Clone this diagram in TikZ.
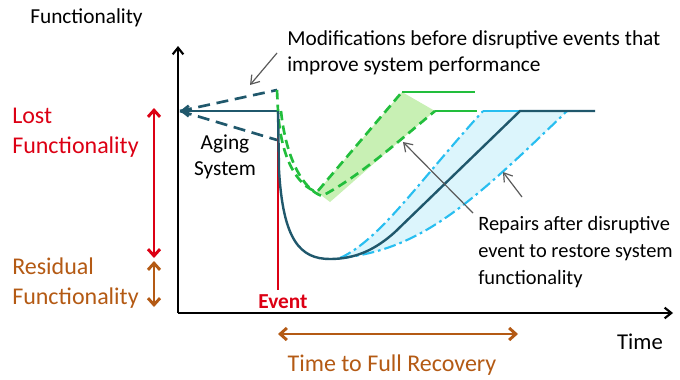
\documentclass[tikz,border=0pt]{standalone}
\usepackage{fontspec}
\setmainfont{Carlito}
\usetikzlibrary{arrows.meta}
\definecolor{teal1}{RGB}{32,88,108}
\definecolor{green1}{RGB}{34,190,60}
\definecolor{greenfill}{RGB}{200,240,180}
\definecolor{blue1}{RGB}{40,190,240}
\definecolor{bluefill}{RGB}{220,245,252}
\definecolor{red1}{RGB}{220,0,20}
\definecolor{brown1}{RGB}{180,90,20}
\definecolor{gray1}{RGB}{90,90,90}
\tikzset{
  lbl/.style={inner sep=0pt, font=\fontsize{16}{19.5}\selectfont, text=black},
  big/.style={font=\fontsize{18}{22.5}\selectfont},
  axisline/.style={line width=1.6pt, -{Straight Barb[length=5pt,width=8pt]}},
  tealdash/.style={teal1, line width=2pt, dash pattern=on 9pt off 5pt},
  greendash/.style={green1, line width=2pt, dash pattern=on 7pt off 4pt},
  bluedashdot/.style={blue1, line width=1.6pt, dash pattern=on 9pt off 3pt on 2pt off 3pt},
  dblarrow/.style={line width=2.2pt, {Straight Barb[length=5pt,width=9pt]}-{Straight Barb[length=5pt,width=9pt]}},
  pointer/.style={gray1, line width=0.9pt, -{Straight Barb[length=6pt,width=8pt]}},
}
\begin{document}
\begin{tikzpicture}[x=0.75pt,y=-0.75pt]
\path[use as bounding box] (0,0) rectangle (680,379);
% key points
\coordinate (origin) at (178,313);
\coordinate (ytip) at (178,46);
\coordinate (xtip) at (673,313);
\coordinate (base0) at (180,111);
\coordinate (ev) at (278,111);
\coordinate (up) at (277,90);
\coordinate (low) at (277,140);
% fills
\fill[greenfill] (317,192) -- (402,92) -- (435,111) .. controls (400,140) and (360,176) .. (330,202) -- cycle;
\fill[bluefill] (340,258) .. controls (380,240) and (420,180) .. (483,111) -- (567,111) .. controls (470,205) and (420,250) .. (340,258) -- cycle;
% axes
\draw[axisline] (origin) -- (ytip);
\draw[axisline] (origin) -- (xtip);
% event line
\coordinate (evtop) at (278,128);
\coordinate (evbot) at (278,290);
\draw[red1, line width=0.9pt] (evtop) -- (evbot);
% aging system lines
\draw[teal1, line width=2pt, {Straight Barb[length=5pt,width=8pt]}-] (base0) -- (ev);
\draw[tealdash] (base0) -- (up);
\draw[tealdash] (base0) -- (low);
% green paths
\draw[greendash] (up) -- (278,111) .. controls (281,160) and (298,186) .. (317,192) -- (402,92);
\draw[green1, line width=2pt] (402,92) -- (475,92);
\draw[greendash] (281,111) .. controls (286,160) and (304,190) .. (322,196) .. controls (360,176) and (400,140) .. (435,111);
\draw[green1, line width=2pt] (435,111) -- (477,111);
% light blue dash-dot
\draw[bluedashdot] (340,258) .. controls (380,240) and (420,180) .. (483,111);
\draw[bluedashdot] (340,258) .. controls (420,250) and (470,205) .. (567,111);
\draw[blue1, line width=1.6pt] (483,111) -- (520,111);
% teal main curve
\draw[teal1, line width=1.8pt] (ev) -- (279,170) .. controls (283,240) and (300,259) .. (330,259) .. controls (355,259) and (375,250) .. (395,232) -- (520,111) -- (595,111);
% left double arrows
\coordinate (ra1) at (154,108);
\coordinate (ra2) at (154,258);
\coordinate (ba1) at (154,261);
\coordinate (ba2) at (154,307);
\draw[dblarrow, red1] (ra1) -- (ra2);
\draw[dblarrow, brown1] (ba1) -- (ba2);
% time to recovery
\coordinate (tr1) at (278,334);
\coordinate (tr2) at (518,334);
\draw[dblarrow, brown1] (tr1) -- (tr2);
% labels
\node[lbl, anchor=west] (ylab) at (30,18) {Functionality};
\node[lbl, anchor=west, align=left] (mods) at (287,53) {Modifications before disruptive events that\\improve system performance};
\node[lbl, big, anchor=west, align=left, text=red1] (lost) at (12,133) {Lost\\Functionality};
\node[lbl, big, anchor=west, align=left, text=brown1] (resid) at (12,283) {Residual\\Functionality};
\node[lbl, align=center] (aging) at (225,157) {Aging\\System};
\node[lbl, text=red1, font=\fontsize{16}{18}\selectfont\bfseries] (evlab) at (283,302) {Event};
\node[lbl, anchor=west, align=left, font=\fontsize{15.3}{20}\selectfont] (rep) at (478,252) {Repairs after disruptive\\event to restore system\\functionality};
\node[lbl, font=\fontsize{17}{20}\selectfont] (time) at (640,342) {Time};
\node[lbl, big, text=brown1] (ttfr) at (392,365) {Time to Full Recovery};
% pointers
\coordinate (p1a) at (277,53);
\coordinate (p1b) at (250,85);
\draw[pointer] (p1a) -- (p1b);
\coordinate (p2a) at (473,213);
\coordinate (p2b) at (403,142);
\draw[pointer] (p2a) -- (p2b);
\coordinate (p3a) at (522,197);
\coordinate (p3b) at (503,172);
\draw[pointer] (p3a) -- (p3b);
\end{tikzpicture}
\end{document}
